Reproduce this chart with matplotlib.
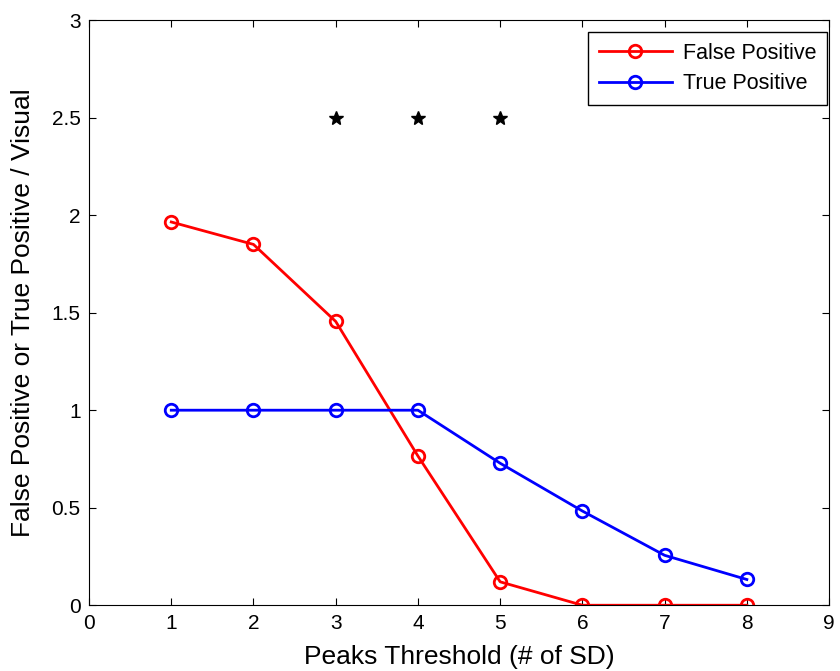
import matplotlib
matplotlib.use("Agg")
import matplotlib.pyplot as plt

plt.rcParams['font.family'] = ['Liberation Sans', 'DejaVu Sans']

thresholds = [1, 2, 3, 4, 5, 6, 7, 8]
false_pos = [1.965, 1.85, 1.455, 0.765, 0.12, 0.0, 0.0, 0.0]
true_pos = [1.0, 1.0, 1.0, 1.0, 0.728, 0.483, 0.256, 0.132]
sig_x = [3, 4, 5]
sig_y = [2.5, 2.5, 2.5]

fig = plt.figure(figsize=(8.4, 6.71), dpi=100)
ax = fig.add_axes([0.106, 0.098, 0.881, 0.872])

ax.plot(thresholds, false_pos, color='red', lw=2, marker='o', ms=9,
        mfc='none', mew=2, label='False Positive')
ax.plot(thresholds, true_pos, color='blue', lw=2, marker='o', ms=9,
        mfc='none', mew=2, label='True Positive')
ax.plot(sig_x, sig_y, ls='none', marker='*', color='black', ms=10)

ax.set_xlim(0, 9)
ax.set_ylim(0, 3)
ax.set_xticks(range(0, 10))
ax.set_yticks([0, 0.5, 1, 1.5, 2, 2.5, 3])
ax.set_yticklabels(['0', '0.5', '1', '1.5', '2', '2.5', '3'])
ax.tick_params(direction='in', top=True, right=True, labelsize=15, length=5, pad=6)
for s in ax.spines.values():
    s.set_linewidth(0.8)

ax.set_xlabel('Peaks Threshold (# of SD)', fontsize=19, labelpad=9)
ax.set_ylabel('False Positive or True Positive / Visual', fontsize=19, labelpad=12)

leg = ax.legend(loc='upper right', fontsize=15.5, fancybox=False, edgecolor='black',
                framealpha=1, bbox_to_anchor=(0.997, 0.98), borderaxespad=0,
                handlelength=3.4, borderpad=0.5, labelspacing=0.45, handletextpad=0.5)
leg.get_frame().set_linewidth(1)

fig.savefig('out.png', dpi=100)
